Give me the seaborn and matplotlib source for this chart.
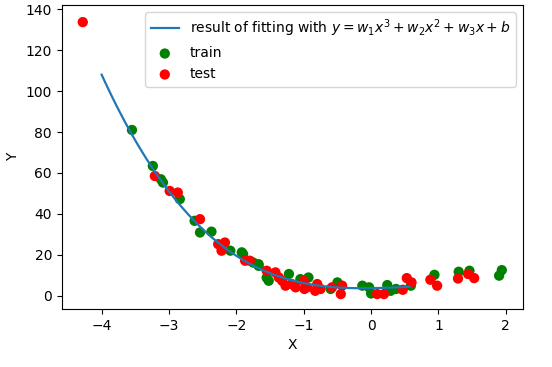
import numpy as np
import pandas as pd
import seaborn as sns
import matplotlib.pyplot as plt

# training points (green)
train_x = [-3.55, -3.24, -3.12, -3.09, -2.84, -2.62, -2.54, -2.37, -2.09, -1.92,
           -1.90, -1.75, -1.67, -1.67, -1.55, -1.52, -1.22, -1.05, -0.93, -0.60,
           -0.50, -0.13, -0.03, 0.00, 0.24, 0.29, 0.37, 0.59, 0.94, 1.30,
           1.46, 1.90, 1.94]
train_y = [81.0, 63.4, 56.9, 55.3, 47.2, 36.6, 30.9, 31.3, 22.0, 21.2,
           20.3, 16.2, 15.4, 14.6, 8.8, 7.3, 10.6, 8.1, 8.9, 3.3,
           6.5, 4.9, 4.1, 1.1, 5.2, 2.4, 3.3, 4.9, 10.2, 11.7,
           12.2, 9.8, 12.5]

# test points (red)
test_x = [-4.28, -3.21, -2.99, -2.87, -2.54, -2.27, -2.17, -2.22, -1.87, -1.80,
          -1.55, -1.42, -1.37, -1.32, -1.27, -1.18, -1.12, -1.00, -0.99, -0.95,
          -0.83, -0.80, -0.75, -0.58, -0.45, -0.43, 0.09, 0.19, 0.47, 0.53,
          0.60, 0.88, 0.98, 1.29, 1.44, 1.53]
test_y = [133.7, 58.5, 51.2, 50.4, 37.4, 25.2, 26.0, 22.0, 17.1, 17.1,
          12.2, 11.4, 8.9, 7.3, 4.9, 5.7, 4.1, 7.3, 3.3, 4.1,
          2.4, 5.7, 3.3, 4.1, 0.8, 4.9, 0.8, 0.8, 2.9, 8.6,
          6.5, 7.8, 4.9, 8.4, 10.6, 8.6]

# fitted cubic coefficients (w1, w2, w3, b) and plotted range
coefs = [-1.22, 1.77, 0.52, 3.7]
fit_range = (-4.0, 0.57)


def main():
    fit_x = np.linspace(fit_range[0], fit_range[1], 100)
    fit_df = pd.DataFrame({'x': fit_x, 'y': np.polyval(coefs, fit_x)})

    fig, ax = plt.subplots(figsize=(5.52, 3.67), dpi=100)
    fig.subplots_adjust(left=0.112, right=0.947, top=0.986, bottom=0.158)

    sns.lineplot(data=fit_df, x='x', y='y', ax=ax, color='#1f77b4', linewidth=1.6,
                 label=r'result of fitting with $y=w_1x^3+w_2x^2+w_3x+b$')
    sns.scatterplot(x=train_x, y=train_y, ax=ax, color='green', s=55,
                    edgecolor='none', label='train')
    sns.scatterplot(x=test_x, y=test_y, ax=ax, color='red', s=55,
                    edgecolor='none', label='test')

    ax.set_ylim(-6.5, 142)
    ax.set_xlabel('X')
    ax.set_ylabel('Y')
    ax.legend(loc='upper right')

    plt.savefig('out.png', dpi=100)
    plt.close()


if __name__ == "__main__":
    main()
